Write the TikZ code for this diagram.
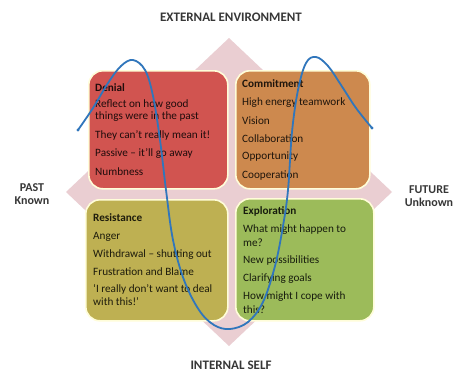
\documentclass[tikz,border=0pt]{standalone}
\usepackage{fontspec}
\setmainfont{Carlito}
\definecolor{denialc}{RGB}{209,84,80}
\definecolor{commitc}{RGB}{205,137,78}
\definecolor{resistc}{RGB}{190,176,82}
\definecolor{explorc}{RGB}{156,187,90}
\definecolor{pinkc}{RGB}{234,206,210}
\definecolor{curvec}{RGB}{48,118,188}
\definecolor{labelc}{RGB}{55,55,55}
\begin{document}
\begin{tikzpicture}[x=1pt,y=-1pt,
  quad/.style={draw=white!85!yellow, line width=1.6pt, rounded corners=14pt, minimum width=#1, anchor=north west, inner sep=0pt},
  boxline/.style={anchor=west, inner sep=0pt, font=\fontsize{11.2}{12}\selectfont, text=#1},
  boxhead/.style={anchor=west, inner sep=0pt, font=\fontsize{11.2}{12}\selectfont\bfseries, text=#1},
  side/.style={font=\fontsize{12}{13}\selectfont\bfseries, text=labelc, align=center, inner sep=0pt},
  wave/.style={draw=curvec, line width=1.8pt, line cap=round}]
\useasboundingbox (0,0) rectangle (454,372);
\fill[white] (0,0) rectangle (454,372);
% background diamond
\fill[pinkc] (229,38) -- (392,192) -- (229,346) -- (66,192) -- cycle;
% quadrant boxes
\node[quad=139pt, minimum height=118pt, fill=denialc] (denial) at (88,70) {};
\node[quad=134pt, minimum height=118pt, fill=commitc] (commit) at (235,70) {};
\node[quad=142pt, minimum height=121pt, fill=resistc] (resist) at (85,199) {};
\node[quad=138pt, minimum height=122pt, fill=explorc] (explor) at (235,198) {};
% denial text
\node[boxhead=black!85!denialc] (d0) at (95,88) {Denial};
\node[boxline=black!85!denialc] (d1) at (95,105) {Reflect on how good};
\node[boxline=black!85!denialc] (d2) at (95,117) {things were in the past};
\node[boxline=black!85!denialc] (d3) at (95,135) {They can't really mean it!};
\node[boxline=black!85!denialc] (d4) at (95,154) {Passive -- it'll go away};
\node[boxline=black!85!denialc] (d5) at (95,172) {Numbness};
% commitment text
\node[boxhead=black!85!commitc] (c0) at (242,84) {Commitment};
\node[boxline=black!85!commitc] (c1) at (242,103) {High energy teamwork};
\node[boxline=black!85!commitc] (c2) at (242,121) {Vision};
\node[boxline=black!85!commitc] (c3) at (242,139) {Collaboration};
\node[boxline=black!85!commitc] (c4) at (242,157) {Opportunity};
\node[boxline=black!85!commitc] (c5) at (242,176) {Cooperation};
% resistance text
\node[boxhead=black!85!resistc] (r0) at (93,218) {Resistance};
\node[boxline=black!85!resistc] (r1) at (93,237) {Anger};
\node[boxline=black!85!resistc] (r2) at (93,255) {Withdrawal -- shutting out};
\node[boxline=black!85!resistc] (r3) at (93,272) {Frustration and Blame};
\node[boxline=black!85!resistc] (r4) at (93,289) {`I really don't want to deal};
\node[boxline=black!85!resistc] (r5) at (93,302) {with this!'};
% exploration text
\node[boxhead=black!85!explorc] (e0) at (243,211) {Exploration};
\node[boxline=black!85!explorc] (e1) at (243,230) {What might happen to};
\node[boxline=black!85!explorc] (e2) at (243,243) {me?};
\node[boxline=black!85!explorc] (e3) at (243,261) {New possibilities};
\node[boxline=black!85!explorc] (e4) at (243,279) {Clarifying goals};
\node[boxline=black!85!explorc] (e5) at (243,297) {How might I cope with};
\node[boxline=black!85!explorc] (e6) at (243,310) {this?};
% outer labels
\node[side, font=\fontsize{13}{14}\selectfont\bfseries] (top) at (231,17) {EXTERNAL ENVIRONMENT};
\node[side, font=\fontsize{13}{14}\selectfont\bfseries] (bottom) at (231,365) {INTERNAL SELF};
\node[side] (past) at (32,194) {PAST\\[0pt]Known};
\node[side] (future) at (429,196) {FUTURE\\[0pt]Unknown};
% change curve
\coordinate (cstart) at (78,130);
\coordinate (cend) at (372,128);
\draw[wave] plot[smooth, tension=0.6] coordinates {(78,130) (93,108) (108,83) (121,66) (133,60) (145,70) (153,96) (160,140) (166,190) (173,240) (184,280) (199,310) (214,325) (230,329) (248,322) (263,302) (275,266) (283,226) (288,190) (292,132) (298,90) (306,63) (316,57) (328,66) (341,85) (356,108) (372,128)};
\fill[curvec] (cstart) circle (1.6pt);
\fill[curvec] (cend) circle (1.6pt);
\end{tikzpicture}
\end{document}
